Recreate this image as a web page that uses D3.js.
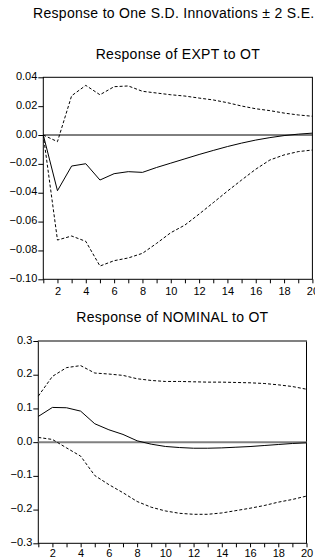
<!DOCTYPE html>
<html>
<head>
<meta charset="utf-8">
<script src="https://cdn.jsdelivr.net/npm/d3@7/dist/d3.min.js"></script>
<style>
  body { margin: 0; background: #fff; }
  svg { display: block; font-family: "Liberation Sans", Arial, sans-serif; }
  .axis path, .axis line { stroke: #000; }
  .axis text { font-size: 11px; fill: #000; }
</style>
</head>
<body>
<svg id="chart" width="315" height="560"></svg>
<script>
'use strict';

var periods = d3.range(1, 21);

// Response of EXPT to OT
var exptMid = [0, -0.0386, -0.0215, -0.0199, -0.0312, -0.0268, -0.0254, -0.0259, -0.0225, -0.0195,
  -0.0165, -0.0135, -0.0107, -0.0080, -0.0056, -0.0035, -0.0018, -0.0004, 0.0006, 0.0013];
var exptUp = [0, -0.0046, 0.0272, 0.0344, 0.0279, 0.0335, 0.0340, 0.0303, 0.0291, 0.0279,
  0.0270, 0.0256, 0.0243, 0.0224, 0.0201, 0.0182, 0.0169, 0.0152, 0.0139, 0.0130];
var exptLow = [0, -0.0728, -0.0700, -0.0737, -0.0908, -0.0871, -0.0852, -0.0820, -0.0751, -0.0677,
  -0.0624, -0.0548, -0.0469, -0.0389, -0.0312, -0.0237, -0.0173, -0.0138, -0.0115, -0.0104];
var exptTicks = [0.04, 0.02, 0.00, -0.02, -0.04, -0.06, -0.08, -0.10];

// Response of NOMINAL to OT
var nomMid = [0.0763, 0.103, 0.102, 0.092, 0.0546, 0.0367, 0.0229, 0.004, -0.006, -0.0128,
  -0.016, -0.018, -0.018, -0.017, -0.015, -0.013, -0.010, -0.007, -0.004, -0.002];
var nomUp = [0.1366, 0.195, 0.221, 0.227, 0.205, 0.202, 0.198, 0.188, 0.183, 0.180,
  0.180, 0.179, 0.178, 0.178, 0.177, 0.176, 0.174, 0.170, 0.165, 0.157];
var nomLow = [0.014, 0.008, -0.017, -0.0415, -0.099, -0.126, -0.150, -0.176, -0.193, -0.204,
  -0.211, -0.214, -0.214, -0.210, -0.203, -0.196, -0.188, -0.178, -0.170, -0.160];
var nomTicks = [0.3, 0.2, 0.1, 0.0, -0.1, -0.2, -0.3];

var svg = d3.select('#chart');

svg.append('text')
  .attr('x', 33)
  .attr('y', 18)
  .attr('font-size', 14)
  .attr('letter-spacing', 0.3)
  .text('Response to One S.D. Innovations \u00b1 2 S.E.');

function panel(opts) {
  var x = d3.scaleLinear().domain([1, 20]).range([opts.left, opts.right]);
  var y = d3.scaleLinear().domain(opts.domain).range([opts.bottom, opts.top]);
  var g = svg.append('g');

  g.append('text')
    .attr('x', (opts.left + opts.right) / 2)
    .attr('y', opts.titleY)
    .attr('text-anchor', 'middle')
    .attr('font-size', 14)
    .attr('letter-spacing', 0.3)
    .text(opts.title);

  // frame
  g.append('rect')
    .attr('x', opts.left)
    .attr('y', opts.top)
    .attr('width', opts.right - opts.left)
    .attr('height', opts.bottom - opts.top)
    .attr('fill', 'none')
    .attr('stroke', '#000');

  if (opts.grayTop) {
    g.append('line')
      .attr('x1', opts.left).attr('x2', opts.right)
      .attr('y1', opts.top).attr('y2', opts.top)
      .attr('stroke', '#808080').attr('stroke-width', 2);
  }

  // zero line
  g.append('line')
    .attr('x1', opts.left).attr('x2', opts.right)
    .attr('y1', y(0)).attr('y2', y(0))
    .attr('stroke', opts.zeroColor)
    .attr('stroke-width', opts.zeroWidth);

  var yAxis = g.append('g')
    .attr('class', 'axis')
    .attr('transform', 'translate(' + opts.left + ',0)')
    .call(d3.axisLeft(y).tickValues(opts.ticks).tickSize(5).tickPadding(1)
      .tickFormat(d3.format(opts.fmt)));
  yAxis.select('.domain').remove();
  yAxis.selectAll('text').attr('dy', null).attr('y', 2);

  var xAxis = g.append('g')
    .attr('class', 'axis')
    .attr('transform', 'translate(0,' + opts.bottom + ')')
    .call(d3.axisBottom(x).tickValues(periods).tickSize(4).tickPadding(opts.xPad)
      .tickFormat(function (d) { return d % 2 === 0 ? d : ''; }));
  xAxis.select('.domain').remove();

  var line = d3.line()
    .x(function (d, i) { return x(periods[i]); })
    .y(function (d) { return y(d); });

  [[opts.up, '3,2'], [opts.low, '3,2'], [opts.mid, null]].forEach(function (s) {
    g.append('path')
      .datum(s[0])
      .attr('d', line)
      .attr('fill', 'none')
      .attr('stroke', '#000')
      .attr('stroke-width', 1)
      .attr('stroke-dasharray', s[1]);
  });
}

panel({
  title: 'Response of EXPT to OT', titleY: 59,
  left: 43.3, right: 312.4, top: 77.3, bottom: 279.3,
  domain: [-0.10, 0.04], ticks: exptTicks, fmt: '.2f',
  zeroColor: '#000', zeroWidth: 1, grayTop: false, xPad: 4,
  mid: exptMid, up: exptUp, low: exptLow
});

panel({
  title: 'Response of NOMINAL to OT', titleY: 322,
  left: 38.3, right: 306.5, top: 341, bottom: 543.3,
  domain: [-0.3, 0.3], ticks: nomTicks, fmt: '.1f',
  zeroColor: '#808080', zeroWidth: 2, grayTop: true, xPad: 2,
  mid: nomMid, up: nomUp, low: nomLow
});
</script>
</body>
</html>
